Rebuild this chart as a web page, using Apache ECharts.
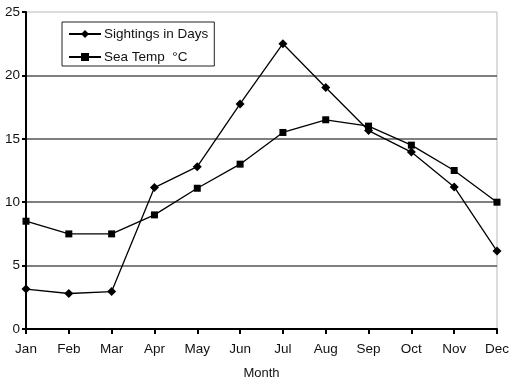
<!DOCTYPE html>
<html>
<head>
<meta charset="utf-8">
<script src="https://cdn.jsdelivr.net/npm/echarts@6/dist/echarts.min.js"></script>
<style>
  html, body { margin: 0; padding: 0; background: #fff; }
  #chart { width: 509px; height: 381px; }
</style>
</head>
<body>
<div id="chart"></div>
<script>
  // months along the x axis
  const months = ['Jan', 'Feb', 'Mar', 'Apr', 'May', 'Jun', 'Jul', 'Aug', 'Sep', 'Oct', 'Nov', 'Dec']
  const sightings = [3.15, 2.8, 2.95, 11.15, 12.8, 17.75, 22.5, 19.05, 15.65, 13.95, 11.2, 6.15]
  const seaTemp = [8.5, 7.5, 7.5, 9, 11.1, 13, 15.5, 16.5, 16, 14.5, 12.5, 10]

  const font = 'Liberation Sans, Arial, sans-serif'
  const chart = echarts.init(document.getElementById('chart'))

  chart.setOption({
    animation: false,
    backgroundColor: '#fff',
    grid: {
      left: 26,
      right: 12,
      top: 12,
      bottom: 52,
      outerBoundsMode: 'none',
      show: true,
      borderColor: '#b8b8b8',
      borderWidth: 1
    },
    legend: {
      orient: 'vertical',
      left: 62,
      top: 22,
      width: 148,
      padding: [5, 6, 2, 6],
      itemGap: 9,
      itemWidth: 32,
      itemHeight: 10,
      borderColor: '#222',
      borderWidth: 1,
      textStyle: { fontFamily: font, fontSize: 13.5, color: '#111', padding: [0, 0, 0, -2] },
      data: ['Sightings in Days', 'Sea Temp  °C']
    },
    xAxis: {
      type: 'category',
      data: months,
      boundaryGap: false,
      name: 'Month',
      nameLocation: 'middle',
      nameGap: 38,
      nameTextStyle: { fontFamily: font, fontSize: 13, color: '#111' },
      axisLine: { lineStyle: { color: '#000', width: 2 } },
      axisTick: { show: true, length: 5, lineStyle: { color: '#000', width: 2 }, alignWithLabel: true },
      axisLabel: { fontFamily: font, fontSize: 13.5, color: '#111', margin: 13 },
      splitLine: { show: false }
    },
    yAxis: {
      type: 'value',
      min: 0,
      max: 25,
      interval: 5,
      axisLine: { show: true, lineStyle: { color: '#000', width: 2 } },
      axisTick: { show: true, length: 4, lineStyle: { color: '#000', width: 2 } },
      axisLabel: { fontFamily: font, fontSize: 13.5, color: '#111', margin: 6 },
      splitLine: {
        show: true,
        showMinLine: false,
        showMaxLine: false,
        lineStyle: { color: '#555', width: 1.5 }
      }
    },
    series: [
      {
        name: 'Sightings in Days',
        type: 'line',
        data: sightings,
        symbol: 'diamond',
        symbolSize: 9,
        lineStyle: { color: '#000', width: 1.3 },
        itemStyle: { color: '#000' }
      },
      {
        name: 'Sea Temp  °C',
        type: 'line',
        data: seaTemp,
        symbol: 'rect',
        symbolSize: 7,
        lineStyle: { color: '#000', width: 1.3 },
        itemStyle: { color: '#000' }
      }
    ]
  })
</script>
</body>
</html>
